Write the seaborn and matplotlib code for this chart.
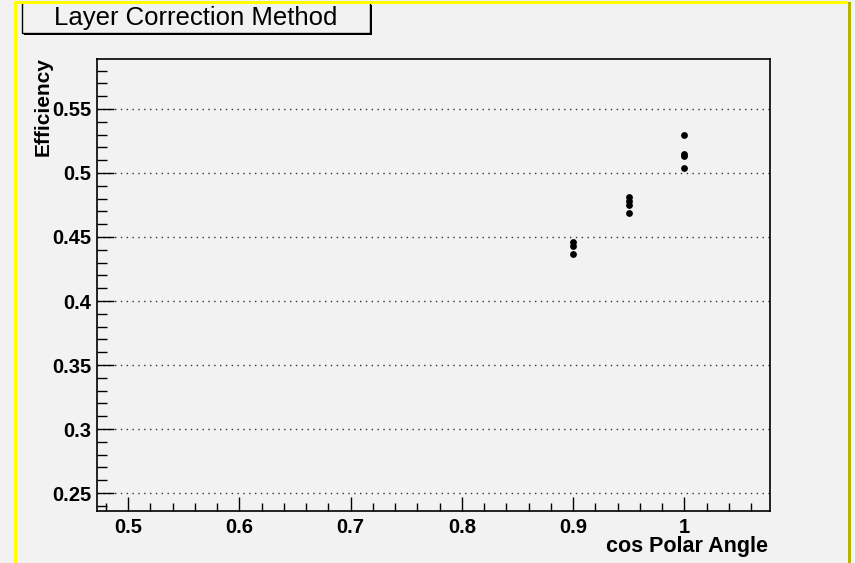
import matplotlib
matplotlib.use("Agg")
import matplotlib.pyplot as plt
from matplotlib.patches import Rectangle
from matplotlib.ticker import MultipleLocator
import seaborn as sns
import pandas as pd

# ---- data ----
cos_angle = [0.9, 0.9, 0.9, 0.95, 0.95, 0.95, 0.95, 1.0, 1.0, 1.0, 1.0]
efficiency = [0.446, 0.443, 0.437, 0.481, 0.478, 0.475, 0.469, 0.530, 0.515, 0.513, 0.504]
title = "Layer Correction Method"
x_label = "cos Polar Angle"
y_label = "Efficiency"
x_ticks = [0.5, 0.6, 0.7, 0.8, 0.9, 1.0]
x_ticklabels = ["0.5", "0.6", "0.7", "0.8", "0.9", "1"]
y_ticks = [0.25, 0.3, 0.35, 0.4, 0.45, 0.5, 0.55]
y_ticklabels = ["0.25", "0.3", "0.35", "0.4", "0.45", "0.5", "0.55"]

df = pd.DataFrame({"cos": cos_angle, "eff": efficiency})

plt.rcParams["font.family"] = ["Liberation Sans", "DejaVu Sans"]
BG = "#f2f2f2"

W, H = 855, 563
fig = plt.figure(figsize=(W / 100, H / 100), dpi=100, facecolor=BG)

def fx(px):
    return px / W

def fy(py):
    return 1 - py / H

ax = fig.add_axes([fx(97), fy(511), fx(770) - fx(97), fy(59) - fy(511)])
ax.set_facecolor(BG)

sns.scatterplot(data=df, x="cos", y="eff", ax=ax, color="black", marker="o",
                s=24, edgecolor="black", linewidth=0, zorder=5)

ax.set_xlim(0.472, 1.077)
ax.set_ylim(0.236, 0.589)

ax.set_xticks(x_ticks)
ax.set_xticklabels(x_ticklabels)
ax.set_yticks(y_ticks)
ax.set_yticklabels(y_ticklabels)
ax.xaxis.set_minor_locator(MultipleLocator(0.02))
ax.yaxis.set_minor_locator(MultipleLocator(0.01))

ax.tick_params(axis="both", which="both", direction="in", top=False, right=False,
               color="black", width=1.0)
ax.tick_params(axis="x", which="major", length=10, pad=5)
ax.tick_params(axis="x", which="minor", length=6)
ax.tick_params(axis="y", which="major", length=12.5, pad=4)
ax.tick_params(axis="y", which="minor", length=7.5)
for lab in ax.get_xticklabels() + ax.get_yticklabels():
    lab.set_fontsize(14.5)
    lab.set_fontweight("bold")

ax.grid(False)
for yv in y_ticks:
    ax.axhline(yv, color="#333333", linestyle=(0, (1, 3.2)), linewidth=1.0, zorder=1)

for sp in ax.spines.values():
    sp.set_color("black")
    sp.set_linewidth(1.2)

ax.set_xlabel("")
ax.set_ylabel("")

fig.text(fx(768), fy(552), x_label, ha="right", va="baseline", fontsize=15.5,
         fontweight="bold")
fig.text(fx(43), fy(57), y_label, ha="center", va="top", rotation=90,
         fontsize=15, fontweight="bold")

# title box with shadow
fig.patches.append(Rectangle((fx(24), fy(35)), fx(372) - fx(24), fy(5) - fy(35),
                             transform=fig.transFigure, facecolor="black",
                             edgecolor="none", zorder=1))
fig.patches.append(Rectangle((fx(22), fy(33)), fx(370) - fx(22), fy(2) - fy(33),
                             transform=fig.transFigure, facecolor=BG,
                             edgecolor="black", linewidth=1.0, zorder=2))
fig.text(fx(196), fy(18), title, ha="center", va="center", fontsize=18.5,
         fontweight="medium", zorder=3)

# canvas border (yellow)
fig.patches.append(Rectangle((fx(14), 0), fx(3), fy(3), transform=fig.transFigure,
                             facecolor="#ffff00", edgecolor="none", zorder=4))
fig.patches.append(Rectangle((fx(14), fy(4)), fx(848) - fx(14), fy(1) - fy(4),
                             transform=fig.transFigure, facecolor="#ffff00",
                             edgecolor="none", zorder=4))
fig.patches.append(Rectangle((fx(848), 0), fx(3), fy(2), transform=fig.transFigure,
                             facecolor="#b4b400", edgecolor="none", zorder=4))

fig.savefig("out.png", dpi=100, facecolor=BG)
